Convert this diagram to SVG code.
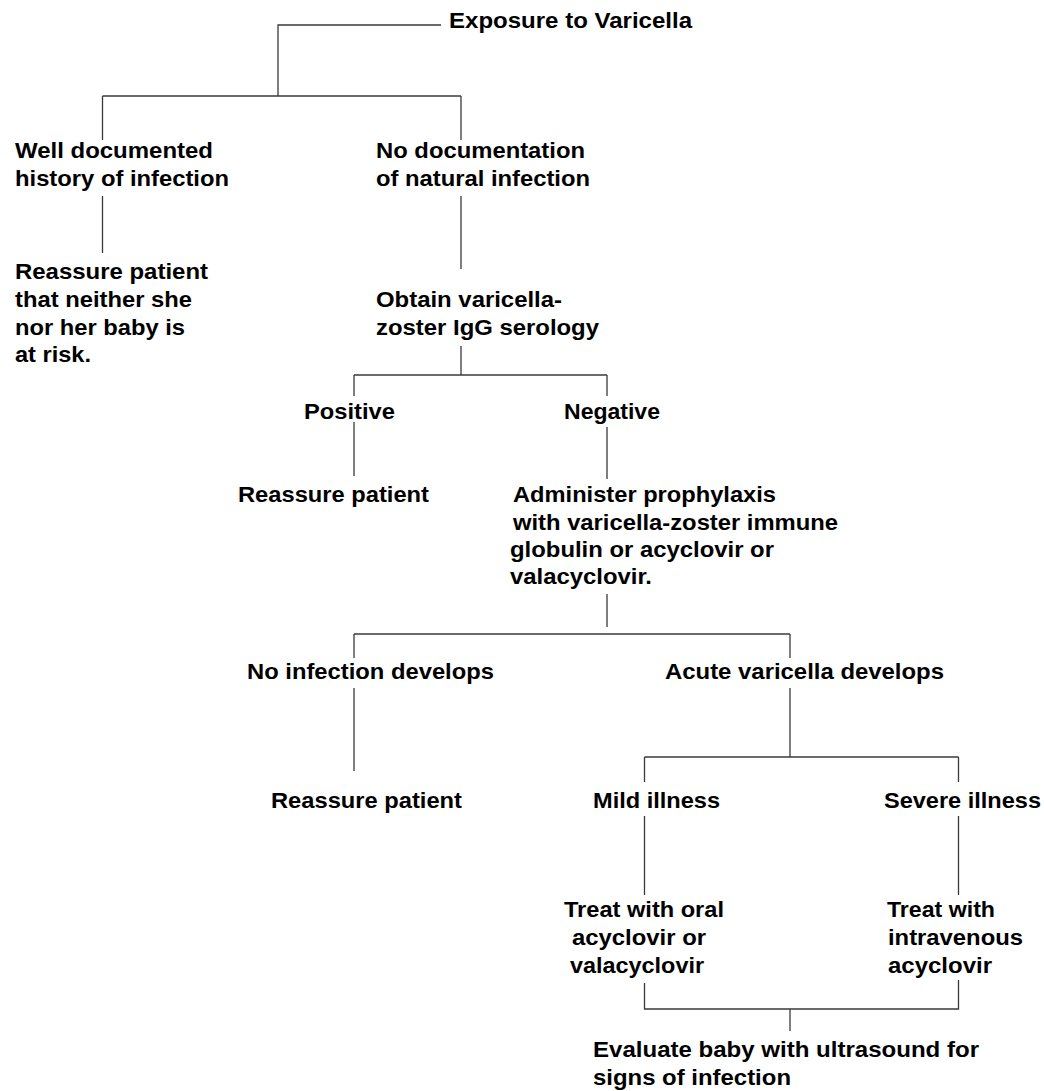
<svg xmlns="http://www.w3.org/2000/svg" width="1044" height="1091" viewBox="0 0 1044 1091">
<style>
text{font-family:"Liberation Sans",Arial,sans-serif;font-weight:bold;font-size:22px;fill:#000}
.c path{fill:none;stroke:#3a3a3a;stroke-width:1.3}
</style>
<rect width="1044" height="1091" fill="#fff"/>
<g class="c" id="connectors">
<path d="M441,25H278V96"/>
<path d="M102.5,96H461"/>
<path d="M102.5,96V140M102.5,196V253"/>
<path d="M461,96V140M461,196V269M461,346V375"/>
<path d="M354,375H607"/>
<path d="M354,375V396M354,422V476"/>
<path d="M607,375V396M607,427V479M607,594V627"/>
<path d="M354,634H790"/>
<path d="M354,634V658M354,688V771"/>
<path d="M790,634V658M790,688V757"/>
<path d="M644.5,757H958.5"/>
<path d="M644.5,757V782M958.5,757V782"/>
<path d="M644.5,816V895M958.5,816V895"/>
<path d="M644.5,983V1009H958.5V980"/>
<path d="M790,1009V1031"/>
</g>
<g id="n-exposure"><text x="449" y="28" textLength="243" lengthAdjust="spacingAndGlyphs">Exposure to Varicella</text></g>
<g id="n-well">
<text x="15" y="158" textLength="198" lengthAdjust="spacingAndGlyphs">Well documented</text>
<text x="15" y="186" textLength="214" lengthAdjust="spacingAndGlyphs">history of infection</text>
</g>
<g id="n-nodoc">
<text x="376" y="158" textLength="209" lengthAdjust="spacingAndGlyphs">No documentation</text>
<text x="376" y="186" textLength="214" lengthAdjust="spacingAndGlyphs">of natural infection</text>
</g>
<g id="n-reassure1">
<text x="15" y="279" textLength="193" lengthAdjust="spacingAndGlyphs">Reassure patient</text>
<text x="15" y="307" textLength="177" lengthAdjust="spacingAndGlyphs">that neither she</text>
<text x="15" y="335" textLength="170" lengthAdjust="spacingAndGlyphs">nor her baby is</text>
<text x="15" y="362" textLength="76" lengthAdjust="spacingAndGlyphs">at risk.</text>
</g>
<g id="n-obtain">
<text x="376" y="307" textLength="186" lengthAdjust="spacingAndGlyphs">Obtain varicella-</text>
<text x="376" y="335" textLength="223" lengthAdjust="spacingAndGlyphs">zoster IgG serology</text>
</g>
<g id="n-positive"><text x="304" y="419" textLength="91" lengthAdjust="spacingAndGlyphs">Positive</text></g>
<g id="n-negative"><text x="564" y="419" textLength="96" lengthAdjust="spacingAndGlyphs">Negative</text></g>
<g id="n-reassure2"><text x="238" y="502" textLength="191" lengthAdjust="spacingAndGlyphs">Reassure patient</text></g>
<g id="n-administer">
<text x="513" y="502" textLength="263" lengthAdjust="spacingAndGlyphs">Administer prophylaxis</text>
<text x="513" y="529.5" textLength="325" lengthAdjust="spacingAndGlyphs">with varicella-zoster immune</text>
<text x="510" y="557" textLength="264" lengthAdjust="spacingAndGlyphs">globulin or acyclovir or</text>
<text x="510" y="584" textLength="142" lengthAdjust="spacingAndGlyphs">valacyclovir.</text>
</g>
<g id="n-noinf"><text x="247" y="679" textLength="247" lengthAdjust="spacingAndGlyphs">No infection develops</text></g>
<g id="n-acute"><text x="665" y="679" textLength="279" lengthAdjust="spacingAndGlyphs">Acute varicella develops</text></g>
<g id="n-reassure3"><text x="271" y="808" textLength="191" lengthAdjust="spacingAndGlyphs">Reassure patient</text></g>
<g id="n-mild"><text x="593" y="808" textLength="127" lengthAdjust="spacingAndGlyphs">Mild illness</text></g>
<g id="n-severe"><text x="884" y="808" textLength="157" lengthAdjust="spacingAndGlyphs">Severe illness</text></g>
<g id="n-oral">
<text x="564" y="917" textLength="160" lengthAdjust="spacingAndGlyphs">Treat with oral</text>
<text x="572" y="945" textLength="134" lengthAdjust="spacingAndGlyphs">acyclovir or</text>
<text x="570" y="973" textLength="134" lengthAdjust="spacingAndGlyphs">valacyclovir</text>
</g>
<g id="n-iv">
<text x="887" y="917" textLength="108" lengthAdjust="spacingAndGlyphs">Treat with</text>
<text x="888" y="945" textLength="135" lengthAdjust="spacingAndGlyphs">intravenous</text>
<text x="888" y="973" textLength="104" lengthAdjust="spacingAndGlyphs">acyclovir</text>
</g>
<g id="n-evaluate">
<text x="593" y="1057" textLength="386" lengthAdjust="spacingAndGlyphs">Evaluate baby with ultrasound for</text>
<text x="593" y="1085" textLength="198" lengthAdjust="spacingAndGlyphs">signs of infection</text>
</g>
</svg>
